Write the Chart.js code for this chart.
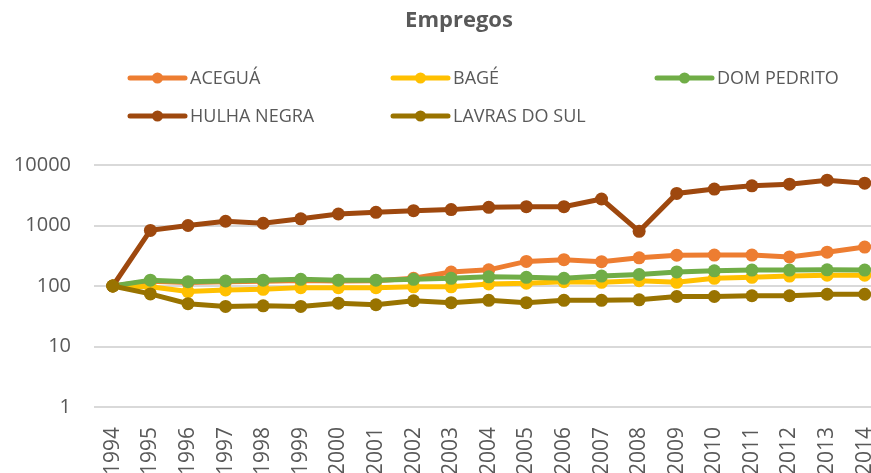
<!DOCTYPE html>
<html>
<head>
<meta charset="utf-8">
<script src="https://cdn.jsdelivr.net/npm/chart.js"></script>
<style>
html,body{margin:0;padding:0;background:#fff;overflow:hidden}
#wrap{position:relative;width:890px;height:473px}
</style>
</head>
<body>
<div id="wrap"><canvas id="c" width="890" height="473"></canvas></div>
<script>
// data (index 1994 = 100)
const chartTitle = "Empregos";
const years = ["1994","1995","1996","1997","1998","1999","2000","2001","2002","2003","2004","2005","2006","2007","2008","2009","2010","2011","2012","2013","2014"];
const yTicks = [1, 10, 100, 1000, 10000];

const acegua     = [100, 120, 114, 117, 120, 123, 121, 122, 134, 170, 185, 255, 272, 252, 292, 322, 325, 325, 302, 362, 440];
const bage       = [100, 97, 81, 86, 88, 94, 94, 94, 97, 97, 108, 111, 118, 115, 122, 115, 134, 139, 146, 151, 151];
const domPedrito = [100, 125, 118, 121, 125, 129, 125, 125, 129, 134, 142, 139, 134, 146, 155, 171, 178, 183, 183, 185, 183];
const hulhaNegra = [100, 830, 1000, 1175, 1090, 1290, 1550, 1650, 1760, 1830, 2000, 2050, 2050, 2740, 800, 3390, 4000, 4530, 4820, 5610, 5010];
const lavrasSul  = [100, 74, 51, 46, 47, 46, 52, 49, 57, 53, 58, 53, 58, 58, 59, 67, 67, 69, 69, 73, 73];

const textColor = "#595959";
const legendCols = [130, 393, 657];
const legendRows = [78, 116];

function series(label, data, color, order) {
  return {
    label, data, order,
    borderColor: color, backgroundColor: color,
    borderWidth: 5, tension: 0,
    pointRadius: 6.5, pointBackgroundColor: color, pointBorderColor: color, pointBorderWidth: 0,
    pointHoverRadius: 6.5
  };
}

// title + line/marker legend like the Excel original
const headerPlugin = {
  id: "header",
  afterDraw(chart) {
    const ctx = chart.ctx;
    ctx.save();
    ctx.fillStyle = textColor;
    ctx.font = 'bold 22px "Open Sans"';
    ctx.textAlign = "center";
    ctx.textBaseline = "middle";
    ctx.fillText(chartTitle, 459, 21);
    ctx.font = '18px "Open Sans"';
    ctx.textAlign = "left";
    chart.data.datasets.forEach((ds, i) => {
      const x = legendCols[i % 3], y = legendRows[Math.floor(i / 3)];
      ctx.strokeStyle = ds.borderColor;
      ctx.lineWidth = 5;
      ctx.lineCap = "round";
      ctx.beginPath(); ctx.moveTo(x, y); ctx.lineTo(x + 55, y); ctx.stroke();
      ctx.fillStyle = ds.borderColor;
      ctx.beginPath(); ctx.arc(x + 27.5, y, 5.5, 0, Math.PI * 2); ctx.fill();
      ctx.fillStyle = textColor;
      ctx.fillText(ds.label, x + 60, y + 1);
    });
    ctx.restore();
  }
};

new Chart(document.getElementById("c"), {
  type: "line",
  data: {
    labels: years,
    datasets: [
      series("ACEGUÁ", acegua, "#ED7D31", 5),
      series("BAGÉ", bage, "#FFC000", 4),
      series("DOM PEDRITO", domPedrito, "#70AD47", 3),
      series("HULHA NEGRA", hulhaNegra, "#9E480E", 2),
      series("LAVRAS DO SUL", lavrasSul, "#997300", 1)
    ]
  },
  options: {
    responsive: false,
    animation: false,
    layout: { padding: { top: 165, left: 12, right: 0, bottom: 0 } },
    plugins: { legend: { display: false }, title: { display: false }, tooltip: { enabled: false } },
    scales: {
      x: {
        offset: true,
        grid: { display: false },
        border: { display: false },
        ticks: { color: textColor, font: { family: "Open Sans", size: 21 }, minRotation: 90, maxRotation: 90, padding: 12, autoSkip: false },
        afterFit(scale) { scale.height = 66; scale.paddingLeft = 0; scale.paddingRight = 0; }
      },
      y: {
        type: "logarithmic",
        min: 1, max: 10000,
        afterBuildTicks(scale) { scale.ticks = yTicks.map(v => ({ value: v })); },
        grid: { color: "#d9d9d9", lineWidth: 2, drawTicks: false },
        border: { display: false },
        ticks: { color: textColor, font: { family: "Open Sans", size: 20 }, padding: 23, callback: v => String(v) },
        afterFit(scale) { scale.width = 82; }
      }
    }
  },
  plugins: [headerPlugin]
});
</script>
</body>
</html>
